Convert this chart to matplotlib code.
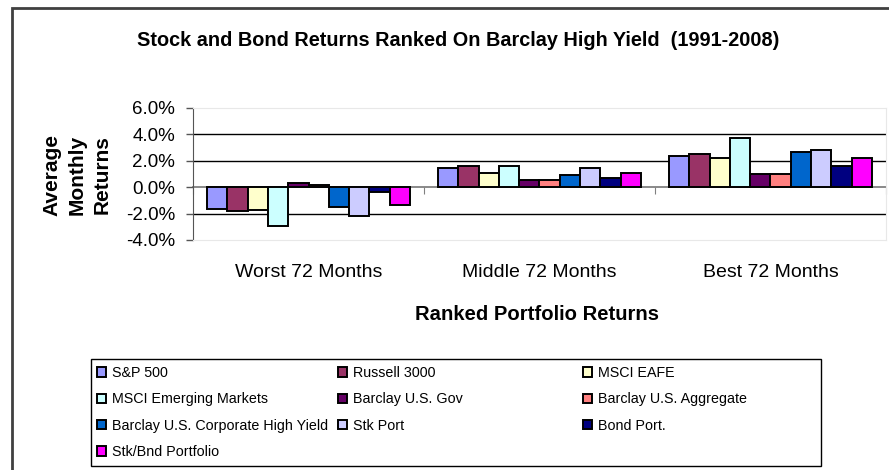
import numpy as np
import matplotlib
matplotlib.use("Agg")
import matplotlib.pyplot as plt
from matplotlib.patches import Rectangle
from matplotlib.ticker import FuncFormatter

plt.rcParams['font.family'] = ['Liberation Sans', 'DejaVu Sans']

########
# Data #
########

categories = ["Worst 72 Months", "Middle 72 Months", "Best 72 Months"]

series_names = ["S&P 500", "Russell 3000", "MSCI EAFE",
                "MSCI Emerging Markets", "Barclay U.S. Gov", "Barclay U.S. Aggregate",
                "Barclay U.S. Corporate High Yield", "Stk Port", "Bond Port.",
                "Stk/Bnd Portfolio"]

sp500 = [-1.64, 1.47, 2.34]
russell3000 = [-1.77, 1.64, 2.51]
msci_eafe = [-1.75, 1.04, 2.19]
msci_em = [-2.96, 1.64, 3.69]
barclay_gov = [0.31, 0.57, 1.00]
barclay_agg = [0.16, 0.57, 1.00]
barclay_hy = [-1.50, 0.90, 2.66]
stk_port = [-2.20, 1.47, 2.79]
bond_port = [-0.38, 0.72, 1.62]
stk_bnd = [-1.32, 1.07, 2.19]

series_values = [sp500, russell3000, msci_eafe, msci_em, barclay_gov,
                 barclay_agg, barclay_hy, stk_port, bond_port, stk_bnd]

colors = ["#9999FF", "#993366", "#FFFFCC", "#CCFFFF", "#660066",
          "#FF8080", "#0066CC", "#CCCCFF", "#000080", "#FF00FF"]

y_ticks = [-4, -2, 0, 2, 4, 6]

#########
# Chart #
#########

W, H = 889, 470
fig = plt.figure(figsize=(W / 100, H / 100), dpi=100)
ax = fig.add_axes([193 / W, 1 - 240 / H, (886 - 193) / W, (240 - 108) / H])

x = np.arange(len(categories))
n = len(series_names)
bar_w = 0.0878
for i, (name, vals, c) in enumerate(zip(series_names, series_values, colors)):
    ax.bar(x - bar_w * n / 2 + bar_w * (i + 0.5), vals, bar_w, color=c,
           edgecolor="black", linewidth=1.4, label=name, zorder=3)

ax.set_xlim(-0.5, len(categories) - 0.5)
ax.set_ylim(y_ticks[0], y_ticks[-1])
ax.set_yticks(y_ticks)
ax.yaxis.set_major_formatter(FuncFormatter(lambda v, p: "%.1f%%" % v))
ax.tick_params(axis="y", labelsize=13.5, length=5, width=1, color="#555555",
               direction="out", pad=8)

ax.set_xticks(x)
ax.set_xticklabels(categories, fontsize=14)
ax.tick_params(axis="x", length=0, pad=17)

ax.yaxis.grid(True, color="black", linewidth=1)
ax.set_axisbelow(True)
gl = ax.get_ygridlines()
gl[0].set_visible(False)
gl[-1].set_visible(False)
gl[y_ticks.index(0)].set_visible(False)

for s in ["top", "right", "bottom"]:
    ax.spines[s].set_color("#e8e8e8")
ax.spines["left"].set_color("#555555")

# category axis at zero
zero_pos = (0 - y_ticks[0]) / (y_ticks[-1] - y_ticks[0])
secax = ax.secondary_xaxis(zero_pos)
secax.set_xticks(np.arange(-0.5, len(categories)))
secax.xaxis.set_ticks_position("bottom")
secax.tick_params(axis="x", direction="out", length=5, color="#808080",
                  labelbottom=False, labeltop=False)
for s in ["top", "bottom"]:
    secax.spines[s].set_color("#808080")
    secax.spines[s].set_linewidth(1.3)

# titles
fig.text(458 / W, 1 - 40 / H, "Stock and Bond Returns Ranked On Barclay High Yield  (1991-2008)",
         ha="center", va="center", fontsize=14.3, fontweight="bold")
fig.text(537 / W, 1 - 315 / H, "Ranked Portfolio Returns",
         ha="center", va="center", fontsize=14.6, fontweight="bold")
fig.text(77 / W, 1 - 175 / H, "Average\nMonthly\nReturns", rotation=90,
         ha="center", va="center", fontsize=15, fontweight="bold",
         linespacing=1.38, multialignment="center")

# legend in three columns
handles, labels = ax.get_legend_handles_labels()
col_x = [97, 338, 583]
for k in range(3):
    fig.legend(handles[k::3], labels[k::3], loc="upper left",
               bbox_to_anchor=(col_x[k] / W, 1 - 366 / H), frameon=False,
               fontsize=10.3, handlelength=0.65, handleheight=0.65,
               handletextpad=0.4, labelspacing=0.86, borderpad=0,
               borderaxespad=0)
fig.patches.append(Rectangle((91 / W, 1 - 466 / H), (821 - 91) / W, (466 - 359) / H,
                             transform=fig.transFigure, fill=False,
                             edgecolor="black", linewidth=1))

# chart border
fig.patches.append(Rectangle((12 / W, -0.1), 1.2, 1.1 - 8 / H,
                             transform=fig.transFigure, fill=False,
                             edgecolor="#404040", linewidth=2))

fig.savefig("out.png", dpi=100)
